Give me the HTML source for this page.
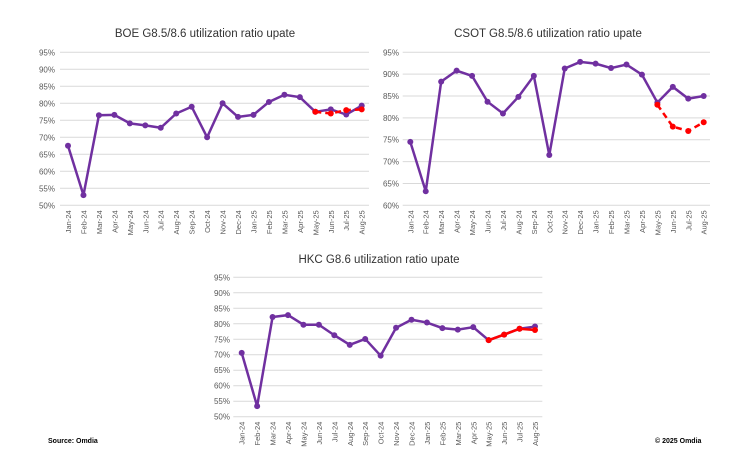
<!DOCTYPE html>
<html><head><meta charset="utf-8"><style>
body{margin:0;background:#fff;width:752px;height:468px;overflow:hidden}
svg{font-family:"Liberation Sans",sans-serif}
</style></head><body>
<svg id="s" width="752" height="468">
<text x="48" y="443" font-size="7" font-weight="bold" fill="#000">Source: Omdia</text>
<text x="655" y="443" font-size="7" font-weight="bold" fill="#000">© 2025 Omdia</text>
</svg>
<script>
const months=["Jan-24","Feb-24","Mar-24","Apr-24","May-24","Jun-24","Jul-24","Aug-24","Sep-24","Oct-24","Nov-24","Dec-24","Jan-25","Feb-25","Mar-25","Apr-25","May-25","Jun-25","Jul-25","Aug-25"];
const boeActual=[67.5,53,76.5,76.6,74.1,73.5,72.8,77,79,70,80,76,76.6,80.4,82.5,81.8,77.5,78.2,76.7,79.3];
const boeForecast=[77.5,77,78,78.2];
const csotActual=[74.5,63.2,88.3,90.8,89.6,83.7,81,84.8,89.6,71.5,91.3,92.8,92.4,91.4,92.2,89.9,83.5,87.1,84.4,85];
const csotForecast=[83,78,77,79];
const hkcActual=[70.6,53.4,82.2,82.8,79.7,79.7,76.3,73.2,75.1,69.7,78.7,81.3,80.4,78.6,78.1,78.9,74.7,76.5,78.4,79.1];
const hkcForecast=[74.7,76.5,78.4,78];
const boeTicks=[50,55,60,65,70,75,80,85,90,95];
const csotTicks=[60,65,70,75,80,85,90,95];
const hkcTicks=[50,55,60,65,70,75,80,85,90,95];
const NS="http://www.w3.org/2000/svg";
const svg=document.getElementById('s');
function mk(t,a,p){const e=document.createElementNS(NS,t);for(const k in a)e.setAttribute(k,a[k]);(p||svg).appendChild(e);return e;}
function chart(cfg){
  const g=mk('g',{});
  
  
  const ticks=cfg.ticks,mn=ticks[0],mx=ticks[ticks.length-1];
  const y=v=>cfg.yb-(v-mn)/(mx-mn)*(cfg.yb-cfg.yt);
  const x=i=>cfg.x0+i*(cfg.x1-cfg.x0)/(months.length-1);
  const t=mk('text',{x:cfg.tx,y:cfg.ty,'font-size':11.5,'text-anchor':'middle',fill:'#333'},g);t.textContent=cfg.title;
  
  
  ticks.forEach(v=>{
    const l=mk('line',{x1:cfg.gl,x2:cfg.gr,y1:y(v),y2:y(v),stroke:'#d9d9d9','stroke-width':1},g);
    
    
    const tt=mk('text',{x:cfg.lx,y:y(v)+3,'font-size':8,'text-anchor':'end',fill:'#595959'},g);tt.textContent=v+'%';
    
    
  });
  months.forEach((m,i)=>{
    const tt=mk('text',{x:0,y:0,'font-size':7.5,'text-anchor':'end',fill:'#595959',transform:`translate(${x(i)+3},${cfg.yb+5}) rotate(-90)`},g);tt.textContent=m;
    
    
  });
  const pa=mk('polyline',{points:cfg.act.map((v,i)=>x(i)+','+y(v)).join(' '),fill:'none',stroke:'#7030a0','stroke-width':2.5},g);
  
  
  cfg.act.forEach((v,i)=>{const c=mk('circle',{cx:x(i),cy:y(v),r:3,fill:'#7030a0'},g);
    
    });
  const off=months.length-cfg.fc.length;
  const pf=mk('polyline',{points:cfg.fc.map((v,i)=>x(i+off)+','+y(v)).join(' '),fill:'none',stroke:'#ff0000','stroke-width':2.5,'stroke-dasharray':cfg.dash},g);
  
  
  cfg.fc.forEach((v,i)=>{const c=mk('circle',{cx:x(i+off),cy:y(v),r:3,fill:'#ff0000'},g);
    
    });
}
chart({name:'boe-chart',title:'BOE G8.5/8.6 utilization ratio upate',tx:205,ty:37,ticks:boeTicks,act:boeActual,fc:boeForecast,yt:52.3,yb:205.3,gl:60,gr:369,x0:68,x1:361.7,lx:55,dash:'6,4'});
chart({name:'csot-chart',title:'CSOT G8.5/8.6 utilization ratio upate',tx:548,ty:37,ticks:csotTicks,act:csotActual,fc:csotForecast,yt:52.3,yb:205.3,gl:402.7,gr:710,x0:410.3,x1:703.7,lx:399,dash:'6,4'});
chart({name:'hkc-chart',title:'HKC G8.6 utilization ratio upate',tx:379,ty:263,ticks:hkcTicks,act:hkcActual,fc:hkcForecast,yt:277.3,yb:416.7,gl:233.3,gr:542.3,x0:241.7,x1:535,lx:230,dash:'none'});
</script>
</body></html>
